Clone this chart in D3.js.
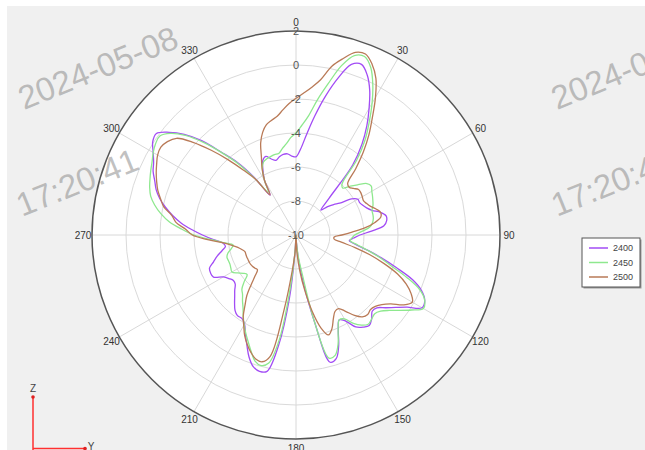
<!DOCTYPE html>
<html><head><meta charset="utf-8">
<script src="https://cdn.jsdelivr.net/npm/d3@7/dist/d3.min.js"></script>
<style>html,body{margin:0;padding:0;background:#fff;} svg{display:block;}</style>
</head><body><svg id="c" width="645" height="450"></svg>
<script>
// ---------- data ----------
const angles = [0,3,6,9,12,15,18,21,24,27,30,33,36,39,42,45,48,51,54,57,
60,63,66,69,72,75,78,81,84,87,90,93,96,99,102,105,108,111,114,117,
120,123,126,129,132,135,138,141,144,147,150,153,156,159,162,165,168,171,174,177,
180,183,186,189,192,195,198,201,204,207,210,213,216,219,222,225,228,231,234,237,
240,243,246,249,252,255,258,261,264,267,270,273,276,279,282,285,288,291,294,297,
300,303,306,309,312,315,318,321,324,327,330,333,336,339,342,345,348,351,354,357];

const series2400 = [-5.4,-4.95,-4.05,-2.9,-1.65,-0.45,0.55,0.75,0.3,-0.45,
-1.4,-2.35,-3.4,-4.7,-7.1,-7.93,-7.5,-7.15,-6.82,-6.1,
-5.8,-5.8,-5.7,-5.55,-5.3,-4.85,-4.58,-4.6,-4.8,-5.55,
-6.24,-6.6,-6.85,-6.45,-5.7,-4.8,-3.8,-2.65,-1.9,-1.5,
-1.44,-2.2,-2.75,-3.2,-3.6,-3.66,-3.35,-3.15,-3.3,-3.55,
-4.15,-4.4,-3.88,-3.0,-2.35,-2.25,-4.8,-7.0,-8.5,-9.6,
-10,-9.2,-6.2,-3.4,-1.8,-1.7,-1.86,-2.3,-2.9,-3.45,
-3.95,-4.15,-4.14,-4.3,-4.6,-4.9,-5.15,-5.4,-5.45,-5.3,
-5.07,-4.55,-4.5,-4.55,-4.9,-5.2,-5.55,-5.8,-5.65,-5.1,
-4.5,-3.85,-3.2,-2.65,-2.15,-1.7,-1.35,-1.1,-0.8,-0.6,
-0.3,0.05,0.15,-0.4,-1.15,-2.15,-3.45,-4.5,-5.8,-7.2,
-6.3,-5.72,-5.2,-5.05,-5.3,-5.45,-5.3,-5.2,-5.2,-5.35];

const series2450 = [-4.0,-3.55,-2.95,-1.95,-0.9,0.3,1.1,1.25,0.8,-0.05,
-1.05,-2.1,-3.09,-4.32,-5.95,-6.1,-5.7,-5.3,-4.85,-4.72,
-4.85,-4.95,-5.05,-5.15,-5.3,-5.32,-5.35,-5.45,-5.65,-6.15,
-6.55,-6.7,-6.8,-6.35,-5.7,-4.9,-4.1,-3.0,-2.0,-1.5,
-1.35,-1.9,-2.45,-2.95,-3.3,-3.45,-3.35,-3.25,-3.45,-3.8,
-4.3,-4.4,-3.9,-3.1,-2.55,-2.5,-4.8,-7.7,-8.7,-9.6,
-10,-9.2,-7.0,-3.8,-2.3,-2.05,-2.2,-2.65,-3.1,-3.5,
-3.9,-4.3,-4.7,-5.0,-5.3,-5.5,-5.9,-6.3,-6.17,-5.9,
-5.65,-5.7,-5.75,-5.75,-5.73,-5.85,-6.1,-6.26,-5.7,-4.95,
-4.0,-3.25,-2.5,-1.95,-1.5,-1.15,-0.95,-0.8,-0.65,-0.5,
-0.3,-0.15,-0.1,-0.5,-1.25,-2.3,-3.5,-4.6,-5.9,-7.0,
-6.3,-5.65,-5.3,-5.2,-5.15,-5.1,-5.1,-4.85,-4.6,-4.25];

const series2500 = [-1.96,-1.65,-1.27,-0.75,0.15,0.75,1.3,1.4,1.0,0.35,
-0.65,-1.75,-2.7,-3.7,-4.75,-5.7,-5.8,-5.65,-5.45,-5.45,
-5.5,-5.55,-5.45,-5.3,-5.05,-4.85,-4.9,-5.3,-5.9,-6.7,
-7.3,-7.75,-7.75,-7.3,-6.45,-5.5,-4.55,-3.6,-2.9,-2.4,
-2.1,-2.45,-3.1,-3.5,-3.72,-3.8,-3.7,-3.8,-4.15,-4.65,
-5.0,-4.95,-4.6,-4.1,-3.82,-4.35,-5.4,-6.7,-7.9,-9.0,
-10,-9.0,-7.9,-5.6,-2.7,-2.28,-2.33,-2.6,-2.95,-3.35,
-3.85,-4.3,-4.9,-5.4,-6.05,-6.6,-6.95,-6.9,-6.85,-6.82,
-6.82,-6.83,-6.83,-6.84,-6.84,-6.7,-6.5,-6.15,-5.65,-4.8,
-3.9,-3.5,-2.9,-2.6,-2.05,-1.75,-1.45,-1.22,-1.0,-0.8,
-0.6,-0.52,-0.65,-0.96,-1.85,-2.95,-4.05,-5.1,-5.95,-7.19,
-6.3,-5.6,-5.0,-4.2,-3.65,-3.28,-3.1,-2.93,-2.6,-2.25];

const seriesNames = ["2400", "2450", "2500"];
const angleTicks = [0,30,60,90,120,150,180,210,240,270,300,330];
const radialTicks = [-10,-8,-6,-4,-2,0,2];
const watermarkDate = "2024-05-08";
const watermarkTime = "17:20:41";

// ---------- drawing ----------
const W = 645, H = 450;
const svg = d3.select("#c");
const colors = ["#a24cf5", "#8ee88e", "#b97a57"];
const allSeries = [series2400, series2450, series2500];
const FONT = "Liberation Sans, Arial, sans-serif";

svg.append("rect").attr("x", 7).attr("y", 6).attr("width", W - 7).attr("height", H - 6).attr("fill", "#f0f0f0");

const cx = 296, cy = 235, R = 204;
const r = d3.scaleLinear().domain([radialTicks[0], radialTicks[radialTicks.length - 1]]).range([0, R]).clamp(true);
const toRad = d => d * Math.PI / 180;

const g = svg.append("g").attr("transform", `translate(${cx},${cy})`);
g.append("circle").attr("r", R).attr("fill", "#fff");

g.selectAll("circle.ring").data(radialTicks.slice(1, -1)).join("circle")
  .attr("class", "ring").attr("r", d => r(d)).attr("fill", "none")
  .attr("stroke", "#dadada").attr("stroke-width", 1);

g.selectAll("line.spoke").data(angleTicks).join("line")
  .attr("class", "spoke")
  .attr("x1", 0).attr("y1", 0)
  .attr("x2", d => R * Math.sin(toRad(d))).attr("y2", d => -R * Math.cos(toRad(d)))
  .attr("stroke", "#d8d8d8").attr("stroke-width", 1);

const line = d3.lineRadial()
  .angle((d, i) => toRad(angles[i]))
  .radius(d => r(d))
  .curve(d3.curveCatmullRomClosed.alpha(0.5));

allSeries.forEach((s, k) => {
  g.append("path").datum(s).attr("d", line).attr("fill", "none")
    .attr("stroke", colors[k]).attr("stroke-width", 1.3).attr("stroke-linejoin", "round");
});

// outer circle
g.append("circle").attr("r", R).attr("fill", "none").attr("stroke", "#555").attr("stroke-width", 1.5);

// radial labels
g.selectAll("text.rl").data(radialTicks).join("text")
  .attr("class", "rl").attr("x", 0).attr("y", d => -r(d))
  .attr("text-anchor", "middle").attr("dominant-baseline", "central")
  .attr("font-family", FONT).attr("font-size", 11)
  .attr("fill", "#555").text(d => d);

// angle labels
g.selectAll("text.al").data(angleTicks).join("text")
  .attr("class", "al")
  .attr("x", d => 213 * Math.sin(toRad(d))).attr("y", d => -213 * Math.cos(toRad(d)))
  .attr("text-anchor", "middle").attr("dominant-baseline", "central")
  .attr("font-family", FONT).attr("font-size", 10)
  .attr("fill", "#333").text(d => d);

// legend
const lg = svg.append("g").attr("transform", "translate(582,238)");
lg.append("rect").attr("x", 1.5).attr("y", 1.5).attr("width", 58).attr("height", 49).attr("fill", "#999");
lg.append("rect").attr("x", 0).attr("y", 0).attr("width", 58).attr("height", 49).attr("fill", "#fff").attr("stroke", "#555").attr("stroke-width", 1);
seriesNames.forEach((n, k) => {
  const y = 10 + k * 14.5;
  lg.append("line").attr("x1", 7).attr("x2", 26).attr("y1", y).attr("y2", y).attr("stroke", colors[k]).attr("stroke-width", 1.5);
  lg.append("text").attr("x", 31).attr("y", y).attr("dominant-baseline", "central")
    .attr("font-family", FONT).attr("font-size", 9).attr("fill", "#444").text(n);
});

// axis indicator
const ax = svg.append("g");
ax.append("line").attr("x1", 33).attr("y1", 397).attr("x2", 33).attr("y2", 450).attr("stroke", "#ff3030").attr("stroke-width", 1.5);
ax.append("line").attr("x1", 33).attr("y1", 448.5).attr("x2", 85).attr("y2", 448.5).attr("stroke", "#ff3030").attr("stroke-width", 1.5);
ax.append("circle").attr("cx", 33).attr("cy", 397).attr("r", 1.8).attr("fill", "#e02020");
ax.append("circle").attr("cx", 85).attr("cy", 448.5).attr("r", 1.8).attr("fill", "#e02020");
ax.append("text").attr("x", 33).attr("y", 388).attr("text-anchor", "middle").attr("dominant-baseline", "central")
  .attr("font-family", FONT).attr("font-size", 10).attr("fill", "#444").text("Z");
ax.append("text").attr("x", 91).attr("y", 446).attr("text-anchor", "middle").attr("dominant-baseline", "central")
  .attr("font-family", FONT).attr("font-size", 10).attr("fill", "#444").text("Y");

// watermarks
const wm = [[24, 110, watermarkDate], [22, 217, watermarkTime], [557, 110, watermarkDate], [557, 217, watermarkTime]];
svg.selectAll("text.wm").data(wm).join("text").attr("class", "wm")
  .attr("transform", d => `translate(${d[0]},${d[1]}) rotate(-22)`)
  .attr("font-family", FONT).attr("font-size", 33)
  .attr("fill", "#8c8c8c").attr("fill-opacity", 0.55).text(d => d[2]);
</script></body></html>
